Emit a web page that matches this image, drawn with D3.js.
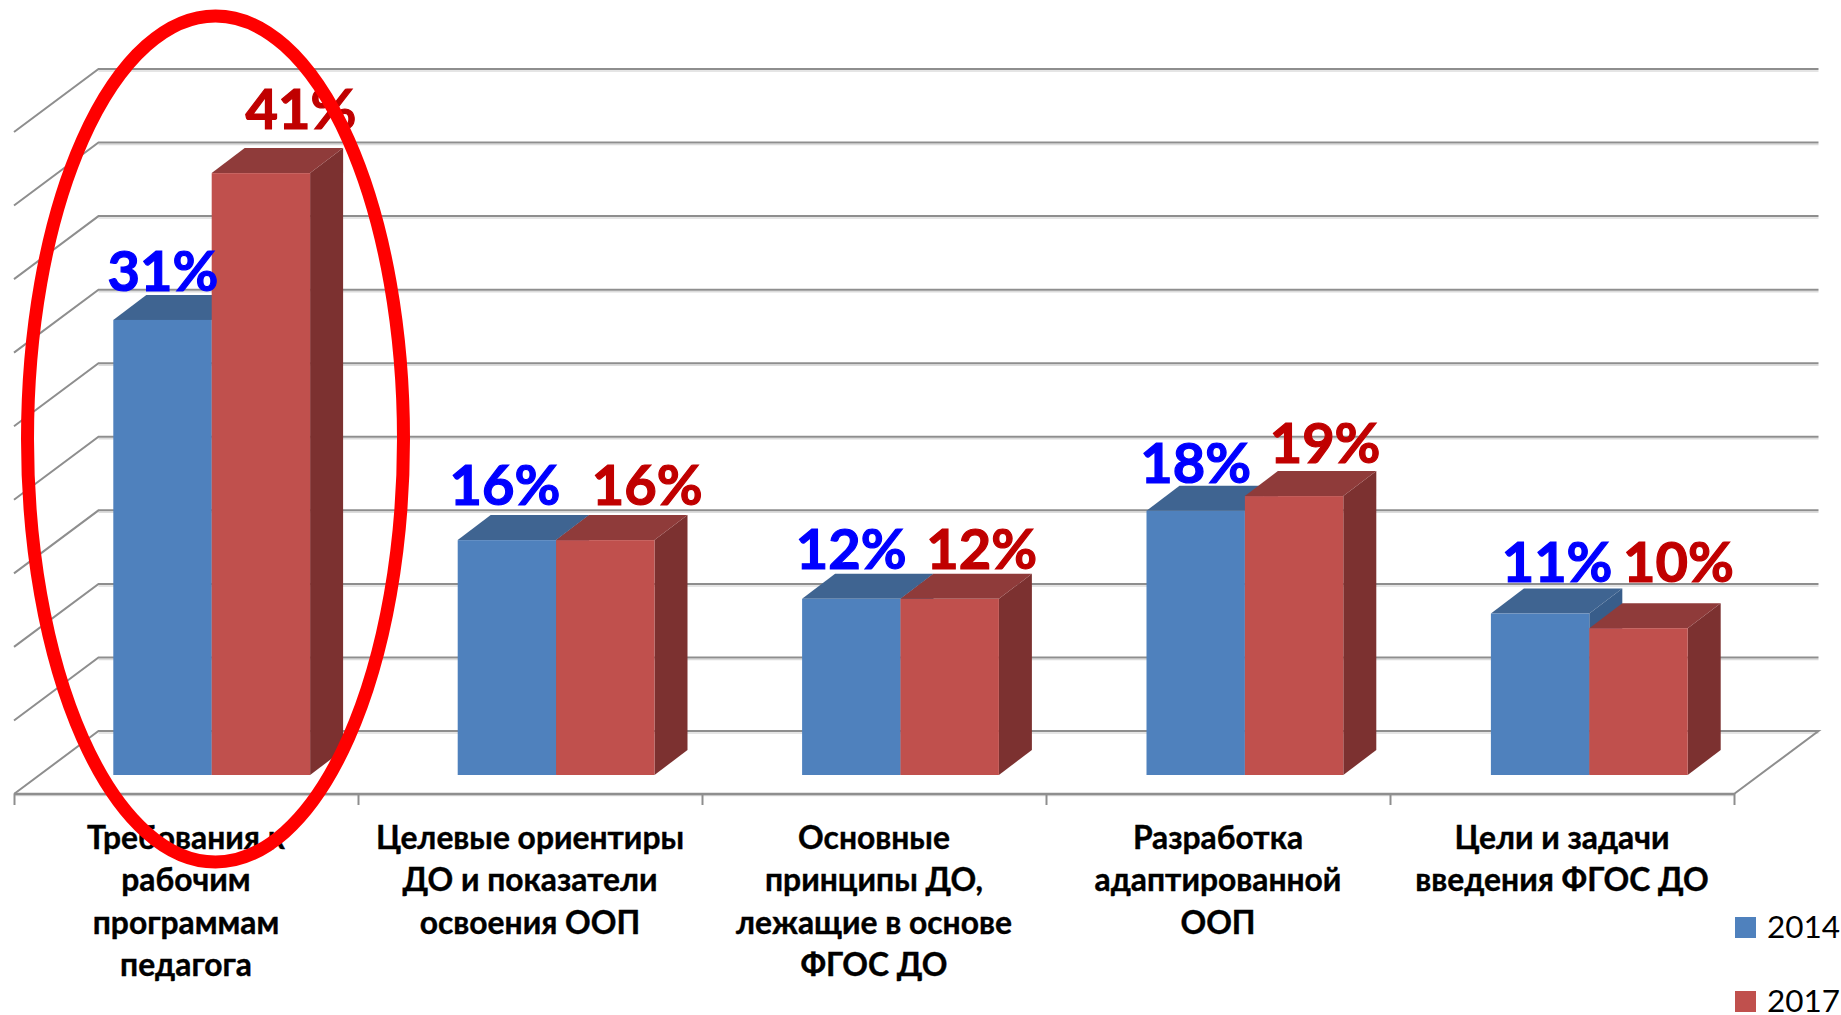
<!DOCTYPE html>
<html><head><meta charset="utf-8">
<script src="https://cdn.jsdelivr.net/npm/d3@7/dist/d3.min.js"></script>
<style>html,body{margin:0;padding:0;background:#fff;overflow:hidden}svg{display:block}text{font-family:Lato,Carlito,sans-serif}</style>
</head><body><svg id="c" width="1841" height="1015"></svg>
<script>
const categories=[
 ["Требования к","рабочим","программам","педагога"],
 ["Целевые ориентиры","ДО и показатели","освоения ООП"],
 ["Основные","принципы ДО,","лежащие в основе","ФГОС ДО"],
 ["Разработка","адаптированной","ООП"],
 ["Цели и задачи","введения ФГОС ДО"]];
const seriesNames=["2014","2017"];
const values2014=[31,16,12,18,11];
const values2017=[41,16,12,19,10];
const yTicks=[0,5,10,15,20,25,30,35,40,45];
const labelDx=[[0.5,-2,0,0,17],[40,42,32,31,40]];
const labelDy=[[-29,-35,-30,-28,-32],[-44,-35,-30,-33,-46]];
const colors=[{front:"#4F81BD",top:"#3F6491",side:"#385D8A"},{front:"#C0504D",top:"#8F3B3A",side:"#7C3130"}];
const labelColors=["#0000FF","#C00000"];

const svg=d3.select("#c");
const idx=categories.map((_,i)=>i);
const y=d3.scaleLinear().domain([0,45]).range([775,114.4]);
const gy=d3.scaleLinear().domain([0,45]).range([731,69]);
const axisL=14,axisR=1734,depthX=84.5,depthY=63;
const xAxis=d3.scaleBand().domain(idx).range([axisL,axisR]);
const barStart=113.3,groupW=196.8,barStep=344.4;
const xGroup=d3.scaleBand().domain(idx).range([barStart,barStart+4*barStep+groupW]).paddingInner(1-groupW/barStep);
const xBar=d3.scaleBand().domain([0,1]).range([0,xGroup.bandwidth()]);
const barDX=33,barDY=25;
const gridColor="#8E8E8E";

// gridlines
const g=svg.append("g");
g.selectAll(".shadow").data(yTicks).join("path").attr("class","shadow")
 .attr("d",v=>`M${axisL+depthX},${gy(v)+2}H${axisR+depthX}`).attr("stroke","#dcdcdc").attr("stroke-width",1.5).attr("fill","none");
g.selectAll(".grid").data(yTicks).join("path").attr("class","grid")
 .attr("d",v=>`M${axisL},${gy(v)+depthY}L${axisL+depthX},${gy(v)}H${axisR+depthX}`+(v===0?`L${axisR},${gy(v)+depthY}`:""))
 .attr("stroke",gridColor).attr("stroke-width",2).attr("fill","none");
// floor axis
const axisY=gy(0)+depthY;
g.append("path").attr("d",`M${axisL},${axisY+1.5}H${axisR}`).attr("stroke","#dcdcdc").attr("stroke-width",1.5);
g.append("path").attr("d",`M${axisL},${axisY}H${axisR}`).attr("stroke",gridColor).attr("stroke-width",2.4);
const tickXs=idx.map(i=>xAxis(i)).concat([axisR]);
g.selectAll(".tick").data(tickXs).join("line").attr("x1",d=>d+0.5).attr("x2",d=>d+0.5).attr("y1",axisY).attr("y2",axisY+11)
 .attr("stroke",gridColor).attr("stroke-width",2);

// bars
const series=[values2014,values2017];
idx.forEach(i=>{
 series.forEach((vals,s)=>{
  const x0=xGroup(i)+xBar(s),w=xBar.bandwidth(),t=y(vals[i]),b=y(0),c=colors[s];
  const bg=svg.append("g");
  bg.append("path").attr("fill",c.side).attr("d",`M${x0+w},${t}l${barDX},${-barDY}V${b-barDY}l${-barDX},${barDY}Z`);
  bg.append("path").attr("fill",c.top).attr("d",`M${x0},${t}l${barDX},${-barDY}h${w}l${-barDX},${barDY}Z`);
  bg.append("rect").attr("x",x0).attr("y",t).attr("width",w).attr("height",b-t).attr("fill",c.front);
 });
});
// value labels
series.forEach((vals,s)=>{
 svg.append("g").selectAll("text").data(vals).join("text")
  .attr("x",(d,i)=>xGroup(i)+xBar(s)+xBar.bandwidth()/2+labelDx[s][i])
  .attr("y",(d,i)=>y(d)+labelDy[s][i])
  .attr("text-anchor","middle").attr("font-weight",700).attr("font-size",56)
  .attr("stroke",labelColors[s]).attr("stroke-width",1.2)
  .attr("fill",labelColors[s]).text(d=>d+"%");
});
// category labels
const lineH=42.3,firstBase=849;
const catLines=categories.flatMap((lines,i)=>lines.map((t,j)=>({t,i,j})));
svg.append("g").selectAll("text").data(catLines).join("text")
 .attr("text-anchor","middle").attr("font-weight",700).attr("font-size",31.8).attr("fill","#000")
 .attr("stroke","#000").attr("stroke-width",0.4)
 .attr("x",d=>xAxis(d.i)+xAxis.bandwidth()/2)
 .attr("y",d=>firstBase+d.j*lineH).text(d=>d.t);
// legend
const legY=[917,991];
const lg=svg.append("g").selectAll("g").data(seriesNames).join("g");
lg.append("rect").attr("x",1735).attr("y",(d,i)=>legY[i]).attr("width",21).attr("height",21).attr("fill",(d,i)=>colors[i].front);
lg.append("text").attr("x",1767).attr("y",(d,i)=>legY[i]+21).attr("font-size",31.5).attr("fill","#000").text(d=>d);
// highlight ellipse
svg.append("ellipse").attr("cx",215.5).attr("cy",439).attr("rx",188).attr("ry",423)
 .attr("fill","none").attr("stroke","#FF0000").attr("stroke-width",13);
</script></body></html>
